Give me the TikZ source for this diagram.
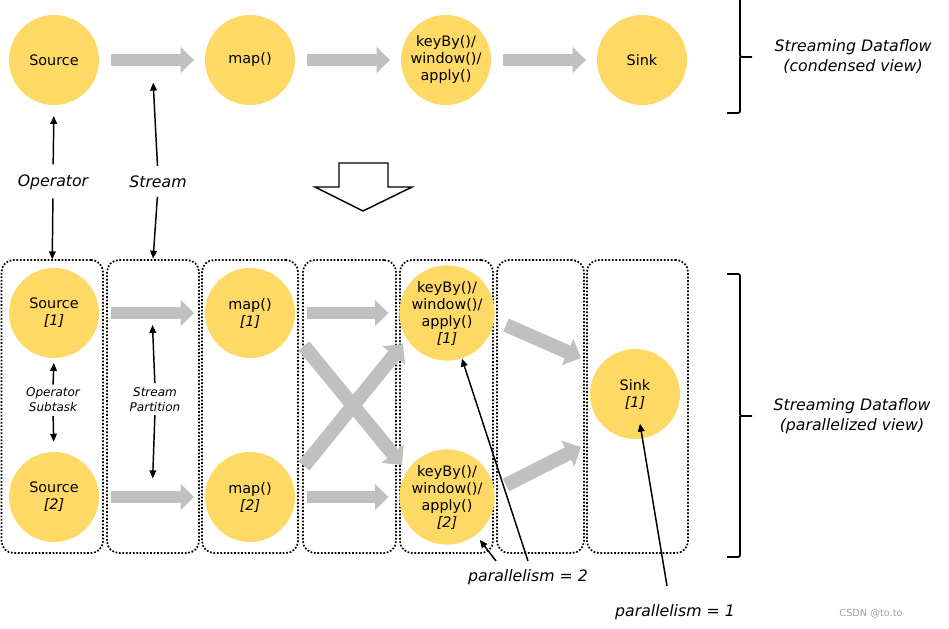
\documentclass[tikz,border=0pt]{standalone}
\usepackage{fontspec}
\setmainfont{DejaVu Sans}
\usetikzlibrary{arrows.meta,calc}
\definecolor{opfill}{RGB}{255,217,102}
\definecolor{flowgray}{RGB}{192,192,192}
\definecolor{wmgray}{RGB}{160,160,160}
\begin{document}
\begin{tikzpicture}[x=0.75pt,y=-0.75pt,
  op/.style={circle,fill=opfill,minimum size=67.5pt,inner sep=0pt,align=center,
    font=\fontsize{10.8pt}{12.75pt}\selectfont},
  flow/.style={draw=flowgray,line width=9pt,-{Triangle[length=10pt,width=19pt]}},
  diagflow/.style={draw=flowgray,line width=10.5pt,-{Triangle[length=11pt,width=21pt]}},
  ptr/.style={draw=black,line width=1.1pt,-{Triangle[length=6pt,width=5pt]}},
  lbl/.style={inner sep=0pt,align=center,font=\fontsize{11.8pt}{15pt}\selectfont\itshape},
  smalllbl/.style={inner sep=0pt,align=center,font=\fontsize{9pt}{11.25pt}\selectfont\itshape},
  lane/.style={draw=black,line width=1.3pt,dash pattern=on 1.3pt off 1.3pt,rounded corners=9pt,
    inner sep=0pt,outer sep=0pt,minimum height=219.75pt},
  brace/.style={draw=black,line width=1.4pt,rounded corners=1.5pt}
]
\useasboundingbox (0,0) rectangle (949,628);

% ---------- condensed view ----------
\node[op] (s0) at (54,60) {Source};
\node[op] (m0) at (250,60) {map()};
\node[op] (k0) at (446,60) {keyBy()/\\window()/\\apply()};
\node[op] (sk0) at (642,60) {Sink};
\draw[flow,shorten <=9pt,shorten >=8pt] (s0) -- coordinate (f0) (m0);
\draw[flow,shorten <=9pt,shorten >=8pt] (m0) -- (k0);
\draw[flow,shorten <=9pt,shorten >=8pt] (k0) -- (sk0);

\node[lbl] (opl) at (53,182) {Operator};
\node[lbl] (stl) at (158,182) {Stream};

% ---------- lanes ----------
\node[lane,minimum width=76.1pt] (l1) at (52.25,406.5) {};
\node[lane,minimum width=69pt] (l2) at (153,406.5) {};
\node[lane,minimum width=72pt] (l3) at (250,406.5) {};
\node[lane,minimum width=69.75pt] (l4) at (349.5,406.5) {};
\node[lane,minimum width=69.75pt] (l5) at (446.5,406.5) {};
\node[lane,minimum width=65.25pt] (l6) at (540.5,406.5) {};
\node[lane,minimum width=75.75pt] (l7) at (637.5,406.5) {};

% ---------- parallel view ----------
\node[op] (s1) at (54,313) {Source\\\textit{[1]}};
\node[op] (s2) at (54,497) {Source\\\textit{[2]}};
\node[op] (m1) at (250,313) {map()\\\textit{[1]}};
\node[op] (m2) at (250,497) {map()\\\textit{[2]}};
\node[op] (k1) at (447,313) {keyBy()/\\window()/\\apply()\\\textit{[1]}};
\node[op] (k2) at (447,497) {keyBy()/\\window()/\\apply()\\\textit{[2]}};
\node[op] (sk) at (635,394) {Sink\\\textit{[1]}};

\draw[flow,shorten <=9pt,shorten >=8pt] (s1) -- coordinate (f1) (m1);
\draw[flow,shorten <=9pt,shorten >=8pt] (s2) -- coordinate (f2) (m2);
\draw[flow,shorten <=9pt,shorten >=8pt] (m1) -- (k1);
\draw[flow,shorten <=9pt,shorten >=8pt] (m2) -- (k2);
\draw[diagflow] ($(m1)+(54,33)$) -- ($(k2)+(-45,-32)$);
\draw[diagflow] ($(m2)+(54,-31)$) -- ($(k1)+(-44,31)$);
\draw[diagflow] ($(k1)+(59,12)$) -- ($(sk)+(-54,-36)$);
\draw[diagflow] ($(k2)+(59,-12)$) -- ($(sk)+(-54,53)$);

% ---------- pointer labels ----------
\draw[ptr,shorten <=7.5pt,shorten >=8pt] (opl.north) -- (s0.south);
\draw[ptr,shorten <=6.5pt,shorten >=0.5pt] (opl.south) -- (l1.north);
\draw[ptr,shorten <=7.5pt,shorten >=17pt] (stl.north) -- (f0);
\draw[ptr,shorten <=6.5pt,shorten >=1pt] (stl.south) -- (l2.north);

\node[smalllbl] (osl) at (53,399.5) {Operator\\Subtask};
\node[smalllbl] (spl) at (155,399.5) {Stream\\Partition};
\draw[ptr,shorten <=2pt,shorten >=3.5pt] (osl.north) -- (s1.south);
\draw[ptr,shorten <=3pt,shorten >=7.5pt] (osl.south) -- (s2.north);
\draw[ptr,shorten <=3pt,shorten >=9pt] (spl.north) -- (f1);
\draw[ptr,shorten <=2.5pt,shorten >=14pt] (spl.south) -- (f2);

\node[lbl] (p2) at (528,577) {parallelism = 2};
\node[lbl] (p1) at (675,612) {parallelism = 1};
\coordinate (p2t) at (528,561);
\coordinate (p2s) at (496,561);
\coordinate (p1t) at (667,586);
\draw[ptr] (p2t) -- (k1);
\draw[ptr,shorten >=4.5pt] (p2s) -- (k2);
\draw[ptr,shorten >=22.5pt] (p1t) -- (sk.center);

% ---------- transform arrow ----------
\draw[line width=1.1pt,fill=white] (339,163) -- (388,163) -- (388,187) -- (412,187)
  -- (363,211) -- (315,187) -- (339,187) -- cycle;

% ---------- braces ----------
\draw[brace] (727,-3) -- (740,-3) -- (740,57) -- (752,57);
\draw[brace] (740,57) -- (740,113) -- (727,113);
\draw[brace] (727,274) -- (740,274) -- (740,416) -- (752,416);
\draw[brace] (740,416) -- (740,557) -- (727,557);

\node[lbl] (cv) at (853,57) {Streaming Dataflow\\(condensed view)};
\node[lbl] (pv) at (852,416) {Streaming Dataflow\\(parallelized view)};

\node[inner sep=0pt,text=wmgray,font=\fontsize{7.3pt}{9pt}\selectfont] (wm) at (871,614) {CSDN @to.to};
\end{tikzpicture}
\end{document}
